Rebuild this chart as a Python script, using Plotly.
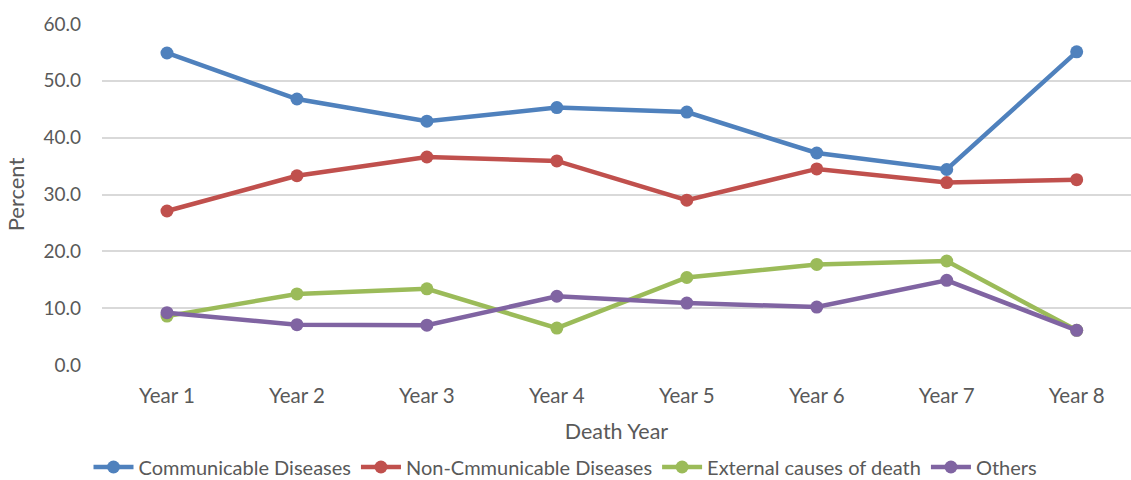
import plotly.graph_objects as go

years = ["Year 1", "Year 2", "Year 3", "Year 4", "Year 5", "Year 6", "Year 7", "Year 8"]
communicable = [54.9, 46.8, 42.9, 45.3, 44.5, 37.3, 34.4, 55.1]
non_communicable = [27.1, 33.3, 36.6, 35.9, 29.0, 34.5, 32.1, 32.6]
external = [8.6, 12.5, 13.4, 6.5, 15.4, 17.7, 18.3, 6.1]
others = [9.2, 7.1, 7.0, 12.1, 10.9, 10.2, 14.9, 6.1]

series = [
    ("Communicable Diseases", communicable, "#4F81BD"),
    ("Non-Cmmunicable Diseases", non_communicable, "#C0504D"),
    ("External causes of death", external, "#9BBB59"),
    ("Others", others, "#8064A2"),
]

font_family = "Lato, 'Open Sans', sans-serif"
grey = "#595959"

fig = go.Figure()
for name, vals, col in series:
    fig.add_trace(go.Scatter(
        x=list(range(len(years))), y=vals, name=name, mode="lines+markers",
        line=dict(color=col, width=4.5), marker=dict(color=col, size=13),
    ))

fig.update_layout(
    width=1131, height=480,
    margin=dict(l=102, r=0, t=24, b=115, autoexpand=False),
    paper_bgcolor="white", plot_bgcolor="white",
    font=dict(family=font_family, color=grey, size=18),
    showlegend=True,
    legend=dict(orientation="h", x=0.5, xanchor="center", xref="container",
                y=13 / 480, yanchor="middle", yref="container",
                font=dict(size=20, color=grey), itemwidth=40, tracegroupgap=0),
    xaxis=dict(
        tickmode="array", tickvals=list(range(len(years))), ticktext=years,
        range=[-0.5, 7.418], showgrid=False, zeroline=False, showline=False,
        ticks="", tickfont=dict(size=20.5, color=grey), ticklabelstandoff=16,
        automargin=False,
        title=dict(text="Death Year", font=dict(size=21.5, color=grey), standoff=18),
    ),
    yaxis=dict(
        range=[0, 60], tickvals=[0, 10, 20, 30, 40, 50, 60], tickformat=".1f",
        showgrid=True, gridcolor="#D9D9D9", gridwidth=1.5, zeroline=False,
        showline=False, ticks="", ticklen=0, tickfont=dict(size=19, color=grey),
        ticklabelstandoff=20, automargin=False,
        title=dict(text="Percent", font=dict(size=22, color=grey), standoff=12),
    ),
)

fig.write_html("out.html")
